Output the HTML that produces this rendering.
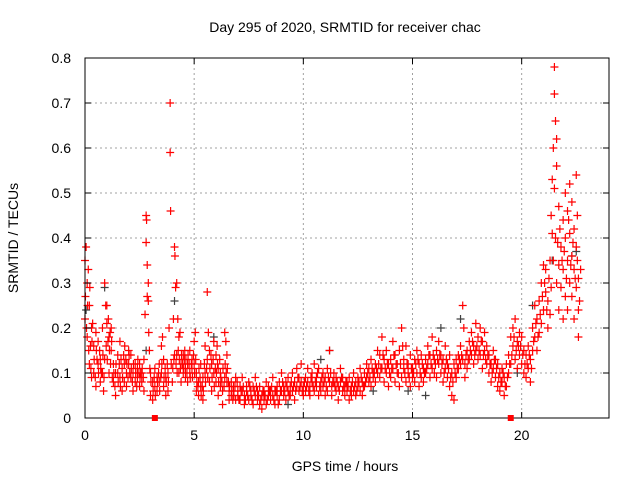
<!DOCTYPE html>
<html><head><meta charset="utf-8"><style>
body{margin:0;background:#fff;font-family:"Liberation Sans",sans-serif}
svg text{font-family:"Liberation Sans",sans-serif;font-size:14px;fill:#000}
</style></head><body>
<svg id="chart" width="640" height="480" viewBox="0 0 640 480">
<text x="345" y="32" text-anchor="middle">Day 295 of 2020, SRMTID for receiver chac</text>
<text x="345" y="471" text-anchor="middle">GPS time / hours</text>
<text transform="translate(18,238) rotate(-90)" text-anchor="middle">SRMTID / TECUs</text>
<g id="grid"></g>
<g id="marks"></g>
<g id="axes"></g>
</svg>
<script>
const xTicks=[0,5,10,15,20];
const yTicks=[0,0.1,0.2,0.3,0.4,0.5,0.6,0.7,0.8];
const yTickLabels=["0","0.1","0.2","0.3","0.4","0.5","0.6","0.7","0.8"];
const gapMarkers=[3.2,19.5];
// red series: [hour, TECU]
const redPts=[[0,.22],[0,.35],[.05,.38],[.1,.30],[.1,.18],[.15,.33],[.2,.25],[.2,.12],[.25,.16],[.3,.20],[.3,.09],[.35,.21],[.4,.16],[.4,.10],[.5,.19],[.5,.07],[.55,.13],[.6,.12],[.6,.17],[.7,.08],[.7,.13],[.75,.10],[.8,.10],[.8,.20],[.85,.06],[.9,.13],[.9,.30],[.95,.25],[1.0,.25],[1.0,.21],[1.05,.17],[1.1,.18],[1.1,.10],[1.15,.19],[1.2,.15],[1.2,.20],[1.25,.09],[1.3,.08],[1.3,.12],[1.4,.05],[1.4,.10],[1.5,.10],[1.5,.14],[1.6,.09],[1.6,.17],[1.65,.13],[1.7,.06],[1.7,.11],[1.8,.08],[1.8,.12],[1.9,.10],[1.9,.07],[2.0,.12],[2.0,.15],[2.05,.10],[2.1,.14],[2.1,.09],[2.2,.10],[2.2,.06],[2.3,.08],[2.3,.12],[2.4,.09],[2.4,.11],[2.5,.12],[2.5,.07],[2.55,.10],[2.6,.10],[2.6,.08],[2.7,.06],[2.7,.13],[2.75,.23],[2.8,.39],[2.8,.45],[2.82,.44],[2.85,.34],[2.85,.27],[2.9,.30],[2.9,.26],[2.95,.15],[3.0,.05],[3.0,.10],[3.1,.04],[3.1,.08],[3.2,.07],[3.2,.11],[3.3,.09],[3.3,.06],[3.4,.12],[3.4,.08],[3.5,.10],[3.5,.16],[3.55,.18],[3.6,.07],[3.6,.13],[3.7,.05],[3.7,.09],[3.8,.06],[3.8,.10],[3.85,.20],[3.9,.70],[3.9,.59],[3.92,.46],[3.95,.12],[4.0,.08],[4.05,.22],[4.1,.38],[4.1,.14],[4.12,.36],[4.15,.29],[4.2,.30],[4.2,.14],[4.25,.22],[4.3,.10],[4.3,.18],[4.35,.19],[4.4,.12],[4.4,.08],[4.5,.14],[4.5,.10],[4.55,.13],[4.6,.11],[4.6,.09],[4.7,.12],[4.7,.08],[4.8,.10],[4.8,.15],[4.9,.13],[4.9,.11],[5.0,.17],[5.0,.12],[5.05,.19],[5.1,.06],[5.1,.10],[5.2,.05],[5.2,.08],[5.3,.07],[5.3,.12],[5.4,.04],[5.4,.09],[5.5,.10],[5.5,.16],[5.6,.28],[5.6,.13],[5.65,.19],[5.7,.08],[5.7,.15],[5.8,.12],[5.8,.06],[5.9,.10],[5.9,.17],[6.0,.14],[6.0,.08],[6.05,.16],[6.1,.05],[6.1,.11],[6.2,.07],[6.2,.10],[6.3,.06],[6.3,.03],[6.4,.09],[6.4,.19],[6.45,.17],[6.5,.14],[6.5,.08],[6.6,.06],[6.6,.04],[6.7,.05],[6.7,.08],[6.8,.07],[6.8,.06],[6.9,.04],[6.9,.09],[7.0,.06],[7.0,.05],[7.1,.07],[7.1,.04],[7.2,.06],[7.2,.09],[7.3,.05],[7.3,.03],[7.4,.07],[7.4,.06],[7.5,.04],[7.5,.08],[7.6,.06],[7.6,.05],[7.7,.03],[7.7,.07],[7.8,.05],[7.8,.09],[7.9,.04],[7.9,.06],[8.0,.03],[8.0,.07],[8.1,.02],[8.1,.05],[8.2,.06],[8.2,.04],[8.3,.08],[8.3,.03],[8.4,.05],[8.4,.07],[8.5,.06],[8.5,.04],[8.6,.09],[8.6,.05],[8.7,.06],[8.7,.03],[8.8,.07],[8.8,.05],[8.9,.04],[8.9,.08],[9.0,.06],[9.0,.10],[9.1,.05],[9.1,.07],[9.2,.08],[9.2,.04],[9.3,.06],[9.3,.09],[9.4,.05],[9.4,.07],[9.5,.10],[9.5,.06],[9.6,.08],[9.6,.04],[9.7,.07],[9.7,.11],[9.8,.06],[9.8,.09],[9.9,.08],[9.9,.12],[10.0,.07],[10.0,.05],[10.1,.09],[10.1,.06],[10.2,.08],[10.2,.11],[10.3,.05],[10.3,.07],[10.4,.10],[10.4,.08],[10.5,.06],[10.5,.12],[10.6,.07],[10.6,.09],[10.7,.05],[10.7,.11],[10.8,.08],[10.8,.06],[10.9,.10],[10.9,.07],[11.0,.09],[11.0,.05],[11.1,.06],[11.1,.11],[11.2,.08],[11.2,.15],[11.3,.07],[11.3,.05],[11.4,.10],[11.4,.08],[11.5,.06],[11.5,.09],[11.6,.07],[11.6,.04],[11.7,.08],[11.7,.11],[11.8,.06],[11.8,.09],[11.9,.05],[11.9,.07],[12.0,.08],[12.0,.06],[12.1,.04],[12.1,.09],[12.2,.07],[12.2,.05],[12.3,.10],[12.3,.06],[12.4,.08],[12.4,.05],[12.5,.07],[12.5,.09],[12.6,.06],[12.6,.11],[12.7,.08],[12.7,.05],[12.8,.10],[12.8,.07],[12.9,.09],[12.9,.12],[13.0,.08],[13.0,.11],[13.1,.07],[13.1,.13],[13.2,.10],[13.2,.09],[13.3,.12],[13.3,.08],[13.4,.15],[13.4,.10],[13.5,.09],[13.5,.14],[13.6,.11],[13.6,.18],[13.7,.13],[13.7,.08],[13.8,.10],[13.8,.15],[13.9,.12],[13.9,.07],[14.0,.09],[14.0,.13],[14.1,.11],[14.1,.17],[14.2,.08],[14.2,.14],[14.3,.10],[14.3,.12],[14.4,.07],[14.4,.15],[14.5,.09],[14.5,.20],[14.6,.11],[14.6,.13],[14.7,.08],[14.7,.16],[14.8,.10],[14.8,.12],[14.9,.07],[14.9,.14],[15.0,.09],[15.0,.11],[15.1,.13],[15.1,.08],[15.2,.10],[15.2,.15],[15.3,.12],[15.3,.07],[15.4,.09],[15.4,.14],[15.5,.11],[15.5,.08],[15.6,.13],[15.6,.10],[15.7,.12],[15.7,.16],[15.8,.09],[15.8,.14],[15.9,.11],[15.9,.18],[16.0,.13],[16.0,.10],[16.1,.15],[16.1,.09],[16.2,.12],[16.2,.17],[16.3,.10],[16.3,.14],[16.4,.13],[16.4,.08],[16.5,.11],[16.5,.16],[16.6,.12],[16.6,.09],[16.7,.07],[16.7,.14],[16.8,.05],[16.8,.10],[16.9,.04],[16.9,.12],[17.0,.09],[17.0,.13],[17.1,.14],[17.1,.11],[17.2,.16],[17.2,.12],[17.3,.25],[17.3,.13],[17.35,.20],[17.4,.12],[17.4,.09],[17.5,.15],[17.5,.11],[17.6,.17],[17.6,.13],[17.7,.19],[17.7,.14],[17.8,.16],[17.8,.12],[17.9,.21],[17.9,.15],[18.0,.18],[18.0,.13],[18.1,.20],[18.1,.14],[18.2,.17],[18.2,.11],[18.3,.15],[18.3,.19],[18.4,.12],[18.4,.16],[18.5,.10],[18.5,.14],[18.6,.12],[18.6,.08],[18.7,.11],[18.7,.15],[18.8,.09],[18.8,.13],[18.9,.07],[18.9,.12],[19.0,.10],[19.0,.06],[19.1,.11],[19.1,.08],[19.2,.05],[19.2,.09],[19.3,.12],[19.3,.07],[19.4,.10],[19.4,.14],[19.5,.18],[19.5,.12],[19.6,.16],[19.6,.20],[19.7,.13],[19.7,.22],[19.8,.17],[19.8,.11],[19.9,.19],[19.9,.14],[20.0,.12],[20.0,.18],[20.1,.15],[20.1,.10],[20.2,.09],[20.2,.14],[20.3,.16],[20.3,.11],[20.4,.13],[20.4,.08],[20.5,.20],[20.5,.15],[20.6,.25],[20.6,.18],[20.7,.22],[20.7,.15],[20.8,.26],[20.8,.19],[20.9,.30],[20.9,.21],[21.0,.34],[21.0,.24],[21.1,.28],[21.1,.33],[21.2,.26],[21.2,.20],[21.3,.35],[21.3,.23],[21.35,.45],[21.4,.53],[21.4,.41],[21.45,.60],[21.5,.78],[21.5,.72],[21.55,.66],[21.6,.62],[21.6,.56],[21.5,.51],[21.6,.30],[21.7,.47],[21.7,.34],[21.7,.24],[21.8,.38],[21.8,.29],[21.9,.44],[21.9,.33],[21.9,.22],[22.0,.50],[22.0,.40],[22.0,.27],[22.1,.46],[22.1,.35],[22.1,.24],[22.2,.52],[22.2,.41],[22.2,.30],[22.3,.48],[22.3,.36],[22.3,.27],[22.4,.42],[22.4,.33],[22.4,.22],[22.5,.54],[22.5,.38],[22.5,.29],[22.6,.31],[22.6,.24],[22.6,.18],[22.55,.45]];
// additional red points filling the dense band
const redPts2=[[.02,.27],[.07,.20],[.12,.25],[.17,.15],[.22,.29],[.27,.11],[.32,.17],[.42,.13],[.47,.09],[.52,.15],[.62,.10],[.67,.15],[.72,.11],[.82,.14],[.87,.09],[.97,.16],[1.02,.13],[1.07,.22],[1.12,.15],[1.17,.12],[1.22,.17],[1.32,.10],[1.37,.07],[1.42,.12],[1.52,.08],[1.57,.12],[1.62,.07],[1.72,.09],[1.77,.14],[1.82,.16],[1.87,.13],[1.92,.12],[1.97,.09],[2.02,.14],[2.12,.11],[2.17,.08],[2.22,.12],[2.32,.10],[2.37,.07],[2.42,.13],[2.47,.10],[2.52,.09],[2.62,.11],[2.67,.09],[2.92,.19],[2.97,.11],[3.02,.08],[3.12,.06],[3.17,.09],[3.22,.05],[3.32,.08],[3.37,.10],[3.42,.06],[3.47,.09],[3.52,.12],[3.62,.09],[3.67,.11],[3.72,.08],[3.77,.12],[3.82,.08],[4.02,.11],[4.07,.13],[4.17,.12],[4.22,.10],[4.27,.15],[4.32,.13],[4.37,.11],[4.42,.14],[4.47,.12],[4.52,.11],[4.57,.15],[4.62,.13],[4.67,.10],[4.72,.14],[4.77,.12],[4.82,.09],[4.87,.12],[4.92,.09],[4.97,.14],[5.02,.10],[5.07,.13],[5.12,.08],[5.17,.07],[5.22,.11],[5.27,.09],[5.32,.05],[5.37,.07],[5.42,.06],[5.47,.12],[5.52,.08],[5.57,.11],[5.62,.09],[5.72,.11],[5.77,.14],[5.82,.09],[5.87,.13],[5.92,.07],[5.97,.11],[6.02,.10],[6.07,.12],[6.12,.08],[6.17,.13],[6.22,.09],[6.27,.08],[6.32,.11],[6.37,.07],[6.42,.12],[6.47,.10],[6.52,.11],[6.57,.08],[6.62,.07],[6.72,.06],[6.77,.04],[6.82,.05],[6.87,.07],[6.97,.08],[7.05,.04],[7.15,.06],[7.25,.07],[7.35,.04],[7.45,.05],[7.55,.07],[7.65,.04],[7.75,.06],[7.85,.07],[7.95,.05],[8.05,.04],[8.15,.06],[8.25,.05],[8.35,.04],[8.45,.06],[8.55,.07],[8.65,.04],[8.75,.06],[8.85,.03],[8.95,.06],[9.05,.08],[9.15,.06],[9.25,.07],[9.35,.05],[9.45,.08],[9.55,.07],[9.65,.06],[9.75,.09],[9.85,.07],[9.95,.06],[10.05,.08],[10.15,.07],[10.25,.06],[10.35,.09],[10.45,.07],[10.55,.08],[10.65,.10],[10.75,.07],[10.85,.09],[10.95,.08],[11.05,.07],[11.15,.09],[11.25,.10],[11.35,.08],[11.45,.07],[11.55,.08],[11.65,.06],[11.75,.09],[11.85,.07],[11.95,.08],[12.05,.07],[12.15,.06],[12.25,.08],[12.35,.07],[12.45,.06],[12.55,.08],[12.65,.09],[12.75,.07],[12.85,.08],[12.95,.10],[13.05,.09],[13.15,.11],[13.25,.10],[13.35,.11],[13.45,.12],[13.55,.11],[13.65,.14],[13.75,.11],[13.85,.12],[13.95,.10],[14.05,.11],[14.15,.14],[14.25,.12],[14.35,.10],[14.45,.12],[14.55,.16],[14.65,.10],[14.75,.12],[14.85,.09],[14.95,.11],[15.05,.10],[15.15,.12],[15.25,.13],[15.35,.10],[15.45,.12],[15.55,.10],[15.65,.11],[15.75,.14],[15.85,.12],[15.95,.14],[16.05,.12],[16.15,.13],[16.25,.14],[16.35,.12],[16.45,.10],[16.55,.13],[16.65,.11],[16.75,.09],[16.85,.08],[16.95,.10],[17.05,.11],[17.15,.13],[17.25,.14],[17.45,.14],[17.55,.13],[17.65,.15],[17.75,.17],[17.85,.14],[17.95,.16],[18.05,.15],[18.15,.17],[18.25,.14],[18.35,.13],[18.45,.14],[18.55,.12],[18.65,.10],[18.75,.13],[18.85,.11],[18.95,.09],[19.05,.08],[19.15,.10],[19.25,.07],[19.35,.09],[19.45,.12],[19.55,.14],[19.65,.18],[19.75,.15],[19.85,.16],[19.95,.16],[20.05,.14],[20.15,.12],[20.25,.12],[20.35,.14],[20.45,.11],[20.55,.17],[20.65,.21],[20.75,.18],[20.85,.23],[20.95,.27],[21.05,.30],[21.15,.24],[21.25,.31],[21.35,.29],[21.45,.35],[21.55,.40],[21.65,.39],[21.75,.42],[21.85,.35],[21.95,.37],[22.05,.31],[22.15,.44],[22.25,.34],[22.35,.39],[22.45,.31],[22.55,.35],[22.65,.26],[22.7,.33]];
// dark grey series (partially hidden behind red)
const greyPts=[[.05,.24],[.9,.29],[2.8,.15],[4.1,.26],[5.9,.18],[8.2,.05],[9.3,.03],[10.8,.13],[11.2,.15],[13.2,.06],[14.8,.06],[15.6,.05],[16.3,.20],[17.2,.22],[19.8,.10],[20.5,.25],[21.4,.35],[22.3,.36],[22.5,.37]];
const L=85,R=609,T=58,B=418;
const xs=h=>L+(h/24)*(R-L);
const ys=v=>B-(v/0.8)*(B-T);
const NS="http://www.w3.org/2000/svg";
function mk(tag,attrs,parent){const e=document.createElementNS(NS,tag);for(const k in attrs)e.setAttribute(k,attrs[k]);parent.appendChild(e);return e;}
const grid=document.getElementById('grid'),marks=document.getElementById('marks'),axes=document.getElementById('axes');
xTicks.forEach(t=>{if(t>0){const g=mk('line',{x1:xs(t),x2:xs(t),y1:T,y2:B,stroke:'#a0a0a0','stroke-dasharray':'2,3'},grid);

}
const tx=mk('text',{x:xs(t),y:B+22,'text-anchor':'middle'},axes);tx.textContent=t;


mk('line',{x1:xs(t),x2:xs(t),y1:B,y2:B-6,stroke:'#000'},axes);mk('line',{x1:xs(t),x2:xs(t),y1:T,y2:T+6,stroke:'#000'},axes);});
yTicks.forEach((t,i)=>{if(t>0&&t<0.8){const g=mk('line',{x1:L,x2:R,y1:ys(t),y2:ys(t),stroke:'#a0a0a0','stroke-dasharray':'2,3'},grid);

}
const tx=mk('text',{x:L-14,y:ys(t)+5,'text-anchor':'end'},axes);tx.textContent=yTickLabels[i];


mk('line',{x1:L,x2:L+6,y1:ys(t),y2:ys(t),stroke:'#000'},axes);mk('line',{x1:R,x2:R-6,y1:ys(t),y2:ys(t),stroke:'#000'},axes);});
const fr=mk('rect',{x:L,y:T,width:R-L,height:B-T,fill:'none',stroke:'#000'},axes);


function plus(p,color){const x=xs(p[0]),y=ys(p[1]);const e=mk('path',{d:`M${x-4} ${y}H${x+4}M${x} ${y-4}V${y+4}`,stroke:color,'stroke-width':1.2,fill:'none'},marks);return e;}
greyPts.forEach(p=>{const e=plus(p,'#404040');

});
redPts.concat(redPts2).forEach(p=>{const e=plus(p,'#ff0000');

});
gapMarkers.forEach(h=>{const e=mk('rect',{x:xs(h)-3,y:B-3,width:6,height:6,fill:'#ff0000'},axes);

});
</script>
</body></html>
